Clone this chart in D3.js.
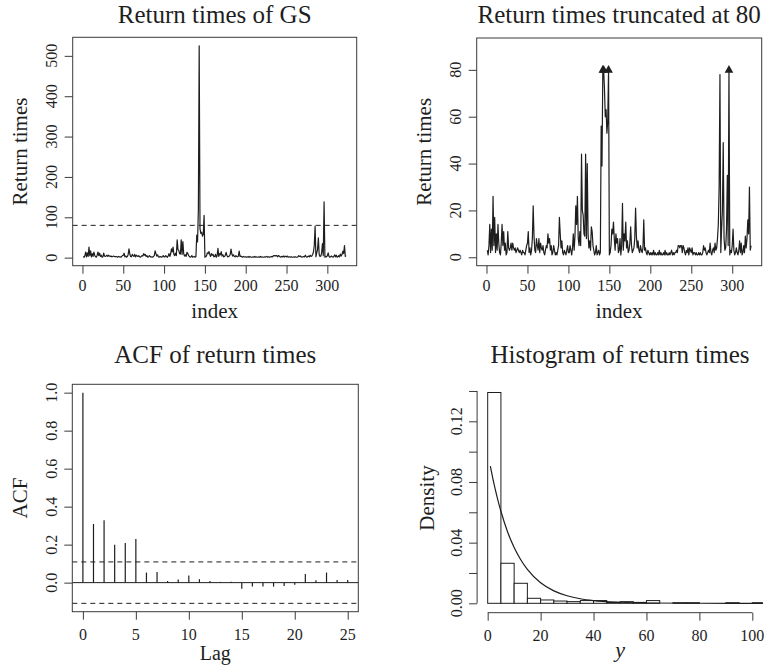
<!DOCTYPE html>
<html><head><meta charset="utf-8">
<script src="https://cdn.jsdelivr.net/npm/d3@7"></script>
<style>
body{margin:0;background:#fff}
svg{display:block}
text{font-family:"Liberation Serif","Times New Roman",serif;fill:#1e1e1e}
</style>
</head><body>
<svg id="c" width="765" height="666"></svg>
<script>
// ---------------- data ----------------
const returnTimes = [
  3, 1, 5, 14, 2, 12, 3, 26, 5, 17,
  2, 10, 3, 14, 6, 2, 1, 6, 14, 5,
  11, 3, 6, 1, 2, 11, 4, 3, 4, 6,
  3, 6, 4, 3, 4, 2, 3, 4, 3, 2,
  3, 2, 1, 3, 2, 2, 1, 3, 5, 6,
  11, 2, 4, 1, 3, 8, 22, 9, 3, 2,
  8, 5, 3, 8, 2, 6, 4, 3, 5, 2,
  1, 3, 5, 4, 10, 6, 8, 3, 5, 1,
  2, 5, 3, 1, 2, 1, 3, 5, 17, 10,
  4, 7, 2, 1, 3, 2, 1, 3, 5, 2,
  2, 5, 3, 1, 4, 10, 3, 9, 22, 14,
  26, 8, 5, 11, 5, 44, 20, 18, 10, 9,
  44, 8, 40, 10, 4, 7, 3, 13, 11, 5,
  3, 1, 2, 5, 1, 2, 3, 1, 2, 56,
  39, 120, 525, 72, 60, 63, 53, 58, 105, 1,
  2, 5, 12, 10, 15, 8, 3, 10, 6, 8,
  2, 3, 8, 1, 5, 23, 3, 10, 7, 15,
  4, 7, 2, 3, 6, 13, 5, 2, 3, 4,
  8, 21, 9, 4, 7, 3, 2, 5, 3, 2,
  4, 16, 3, 4, 2, 1, 3, 2, 1, 2,
  1, 2, 1, 3, 1, 2, 1, 1, 2, 1,
  3, 1, 2, 1, 1, 2, 1, 3, 1, 2,
  1, 1, 2, 1, 2, 3, 1, 2, 1, 2,
  2, 3, 2, 5, 5, 4, 5, 5, 2, 5,
  4, 2, 1, 3, 2, 4, 1, 4, 3, 2,
  4, 1, 2, 2, 1, 2, 1, 1, 2, 1,
  2, 1, 1, 2, 5, 3, 4, 2, 1, 2,
  3, 2, 6, 2, 1, 3, 4, 2, 6, 3,
  4, 8, 14, 30, 78, 2, 12, 20, 49, 8,
  3, 4, 12, 35, 5, 138, 1, 3, 2, 5,
  12, 3, 1, 2, 4, 2, 1, 3, 7, 2,
  6, 1, 2, 5, 2, 9, 4, 8, 16, 10,
  30, 3, 5
];
const thresholdLine = 80;
const truncationLevel = 80;

const acfLags   = [0,1,2,3,4,5,6,7,8,9,10,11,12,13,14,15,16,17,18,19,20,21,22,23,24,25];
const acfValues = [1.0,0.309,0.328,0.200,0.209,0.230,0.053,0.056,0.009,0.016,0.037,0.018,0.009,0.004,0.004,
                   -0.032,-0.021,-0.021,-0.021,-0.018,-0.011,0.046,0.012,0.053,0.014,0.014];
const acfBound  = 0.109;

const histBinStart = [0,5,10,15,20,25,30,35,40,45,50,55,60,65,70,75,80,85,90,95,100];
const histBinWidth = 5;
const histDensity  = [0.1390,0.0264,0.0132,0.0033,0.0022,0.0015,0.0011,0.0018,0.0018,0.0006,0.0011,
                      0.0006,0.0018,0,0.0004,0.0004,0,0,0.0004,0,0.0004];
const curveY       = [1, 2, 3, 4, 5, 7.5, 10, 12.5, 15, 20, 25, 30, 35, 40, 50, 60, 80, 104];
const curveDensity = [0.0905,0.0819,0.0741,0.0670,0.0607,0.0472,0.0368,0.0287,0.0223,0.0135,0.0082,
                      0.0050,0.0030,0.0018,0.0007,0.0002,0.00003,0.0000];

const indexTicks   = [0,50,100,150,200,250,300];
const rtTicks      = [0,100,200,300,400,500];
const truncTicks   = [0,20,40,60,80];
const acfTicks     = [0,0.2,0.4,0.6,0.8,1.0];
const lagTicks     = [0,5,10,15,20,25];
const densityTicks = [0,0.02,0.04,0.06,0.08,0.10,0.12,0.14];
const densityLabels= [0,0.04,0.08,0.12];
const yTicks       = [0,20,40,60,80,100];

const titles = ["Return times of GS","Return times truncated at 80","ACF of return times","Histogram of return times"];

// ---------------- drawing ----------------
const svg = d3.select('#c');
const INK = '#1e1e1e', FRAME = '#3a3a3a';
const TICK = 16, LAB = 21, TITLE = 25, TL = 8;

function box(x0,y0,x1,y1){
  svg.append('rect').attr('x',x0).attr('y',y0).attr('width',x1-x0).attr('height',y1-y0)
    .attr('fill','none').attr('stroke',FRAME).attr('stroke-width',1);
}
function bottomAxis(scale, ticks, y, labelBaseline, fmt, withLine){
  const g = svg.append('g').attr('transform',`translate(0,${y})`)
    .call(d3.axisBottom(scale).tickValues(ticks).tickSize(TL).tickFormat(''));
  g.select('.domain').remove();
  g.selectAll('.tick line').attr('stroke',FRAME);
  if(withLine){
    g.append('line').attr('x1',scale(ticks[0])).attr('x2',scale(ticks[ticks.length-1]))
      .attr('stroke',FRAME);
  }
  svg.append('g').selectAll('text').data(ticks).join('text')
    .attr('x',d=>scale(d)).attr('y',labelBaseline).attr('text-anchor','middle')
    .attr('font-size',TICK).text(fmt);
}
function leftAxis(scale, ticks, labels, x, labelBaseline, fmt, withLine){
  const g = svg.append('g').attr('transform',`translate(${x},0)`)
    .call(d3.axisLeft(scale).tickValues(ticks).tickSize(TL).tickFormat(''));
  g.select('.domain').remove();
  g.selectAll('.tick line').attr('stroke',FRAME);
  if(withLine){
    g.append('line').attr('y1',scale(ticks[0])).attr('y2',scale(ticks[ticks.length-1]))
      .attr('stroke',FRAME);
  }
  svg.append('g').selectAll('text').data(labels).join('text')
    .attr('transform',d=>`translate(${labelBaseline},${scale(d)}) rotate(-90)`)
    .attr('text-anchor','middle').attr('font-size',TICK).text(fmt);
}
function label(text, x, y, rot, size, italic){
  const t = svg.append('text').attr('text-anchor','middle').attr('font-size',size)
    .attr('transform',`translate(${x},${y})` + (rot?` rotate(${rot})`:''))
    .text(text);
  if(italic) t.attr('font-style','italic');
}
const idx = returnTimes.map((_,i)=>i+1);

// ---- panel 1: raw return times ----
{
  const x0=72.7,x1=356.7,y0=37.3,y1=265.7;
  const x = d3.scaleLinear().domain([-11.96,335.96]).range([x0,x1]);
  const y = d3.scaleLinear().domain([-19.96,545.96]).range([y1,y0]);
  svg.append('path').datum(returnTimes)
    .attr('d', d3.line().x((d,i)=>x(idx[i])).y(d=>y(d)))
    .attr('fill','none').attr('stroke',INK).attr('stroke-width',1.2).attr('stroke-linejoin','round');
  svg.append('line').attr('x1',x0).attr('x2',x1).attr('y1',y(thresholdLine)).attr('y2',y(thresholdLine))
    .attr('stroke',INK).attr('stroke-dasharray','5,4');
  box(x0,y0,x1,y1);
  bottomAxis(x, indexTicks, y1, 291, d=>d, false);
  leftAxis(y, rtTicks, rtTicks, x0, 56.7, d=>d, false);
  label(titles[0], (x0+x1)/2, 23, 0, TITLE);
  label('index', (x0+x1)/2, 318, 0, LAB);
  label('Return times', 27, (y0+y1)/2, -90, LAB);
}
// ---- panel 2: truncated ----
{
  const x0=476.7,x1=761.7,y0=38,y1=265.7;
  const x = d3.scaleLinear().domain([-11.96,335.96]).range([x0,x1]);
  const y = d3.scaleLinear().domain([-3.6,93.6]).range([y1,y0]);
  const capped = returnTimes.map(v=>Math.min(v,truncationLevel));
  svg.append('path').datum(capped)
    .attr('d', d3.line().x((d,i)=>x(idx[i])).y(d=>y(d)))
    .attr('fill','none').attr('stroke',INK).attr('stroke-width',1.2).attr('stroke-linejoin','round');
  const over = idx.filter((d,i)=>returnTimes[i]>truncationLevel);
  svg.append('g').selectAll('path').data(over).join('path')
    .attr('d',d=>{const cx=x(d), cy=y(truncationLevel);
      return `M${cx},${cy-4.8}L${cx+4.3},${cy+3}L${cx-4.3},${cy+3}Z`;})
    .attr('fill',INK);
  box(x0,y0,x1,y1);
  bottomAxis(x, indexTicks, y1, 291, d=>d, false);
  leftAxis(y, truncTicks, truncTicks, x0, 460.7, d=>d, false);
  label(titles[1], (x0+x1)/2, 23, 0, TITLE);
  label('index', (x0+x1)/2, 318, 0, LAB);
  label('Return times', 431, (y0+y1)/2, -90, LAB);
}
// ---- panel 3: ACF ----
{
  const x0=72.3,x1=358.3,y0=384.3,y1=611.7;
  const x = d3.scaleLinear().domain([-1,26]).range([x0,x1]);
  const y = d3.scaleLinear().domain([-0.153,1.044]).range([y1,y0]);
  svg.append('g').selectAll('line').data(acfLags).join('line')
    .attr('x1',(d)=>x(d)).attr('x2',(d)=>x(d))
    .attr('y1',y(0)).attr('y2',(d,i)=>y(acfValues[i]))
    .attr('stroke',INK).attr('stroke-width',1.2);
  svg.append('line').attr('x1',x0).attr('x2',x1).attr('y1',y(0)).attr('y2',y(0)).attr('stroke',INK);
  [acfBound,-acfBound].forEach(b=>{
    svg.append('line').attr('x1',x0).attr('x2',x1).attr('y1',y(b)).attr('y2',y(b))
      .attr('stroke',INK).attr('stroke-dasharray','5,4');
  });
  box(x0,y0,x1,y1);
  bottomAxis(x, lagTicks, y1, 640, d=>d, false);
  leftAxis(y, acfTicks, acfTicks, x0, 56.7, d=>d.toFixed(1), false);
  label(titles[2], (x0+x1)/2, 363, 0, TITLE);
  label('Lag', (x0+x1)/2, 660, 0, 20);
  label('ACF', 26.7, (y0+y1)/2, -90, LAB);
}
// ---- panel 4: histogram ----
{
  const x0=477.1,x1=762.9,y0=384,y1=611.8;
  const x = d3.scaleLinear().domain([-4,104]).range([x0,x1]);
  const y = d3.scaleLinear().domain([-0.0056,0.1446]).range([y1,y0]);
  svg.append('defs').append('clipPath').attr('id','hc')
    .append('rect').attr('x',x0).attr('y',y0).attr('width',x1-x0).attr('height',y1-y0);
  const g = svg.append('g').attr('clip-path','url(#hc)');
  g.selectAll('rect').data(histBinStart).join('rect')
    .attr('x',d=>x(d)).attr('width',d=>x(d+histBinWidth)-x(d))
    .attr('y',(d,i)=>y(histDensity[i])).attr('height',(d,i)=>y(0)-y(histDensity[i]))
    .attr('fill','#fff').attr('stroke',INK).attr('stroke-width',1);
  g.append('path').datum(curveY)
    .attr('d', d3.line().x(d=>x(d)).y((d,i)=>y(curveDensity[i])).curve(d3.curveMonotoneX))
    .attr('fill','none').attr('stroke',INK).attr('stroke-width',1.2);
  bottomAxis(x, yTicks, 612.7, 640.5, d=>d, true);
  leftAxis(y, densityTicks, densityLabels, x0, 461.7, d=>d.toFixed(2), true);
  label(titles[3], (x0+x1)/2, 363, 0, TITLE);
  label('y', (x0+x1)/2, 657, 0, LAB+1, true);
  label('Density', 434, 498, -90, LAB);
}
</script>
</body></html>
